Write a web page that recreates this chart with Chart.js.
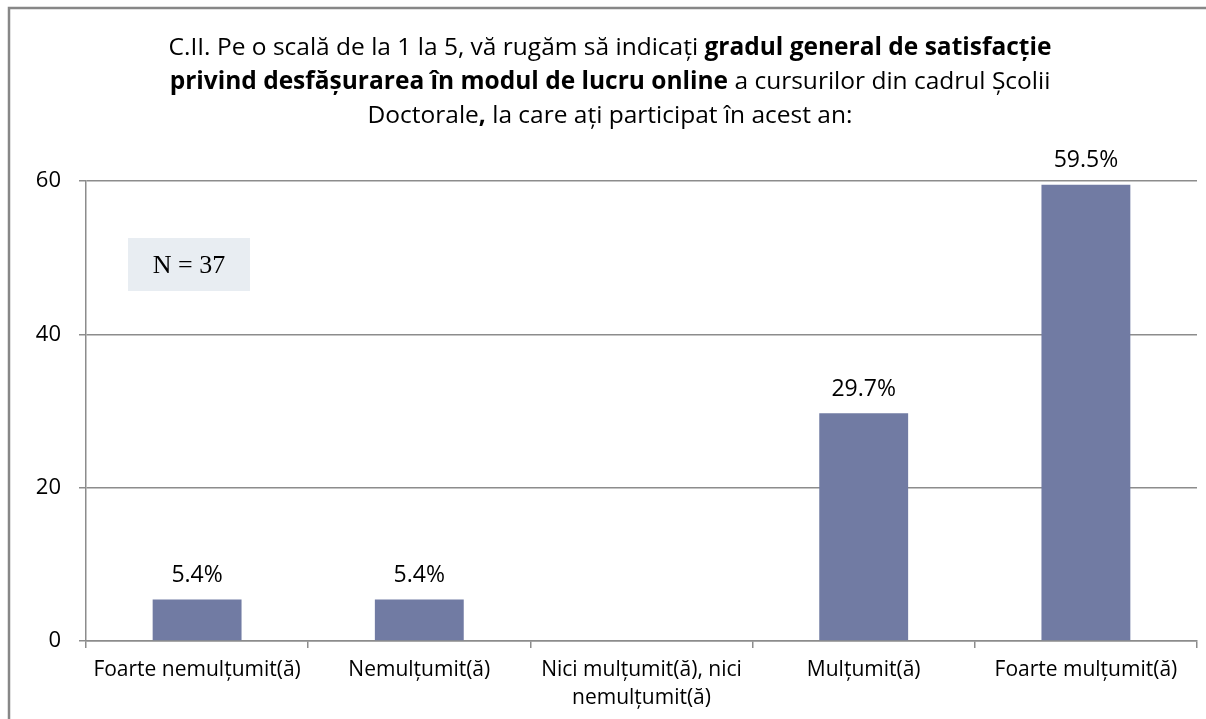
<!DOCTYPE html>
<html>
<head>
<meta charset="utf-8">
<script src="https://cdn.jsdelivr.net/npm/chart.js@4/dist/chart.umd.min.js"></script>
<style>
  html, body { margin: 0; padding: 0; background: #fff; }
  #wrap { width: 1206px; height: 719px; position: relative; }
</style>
</head>
<body>
<div id="wrap"><canvas id="c" width="1206" height="719"></canvas></div>
<script>
const categories = [
  "Foarte nemulțumit(ă)",
  "Nemulțumit(ă)",
  ["Nici mulțumit(ă), nici", "nemulțumit(ă)"],
  "Mulțumit(ă)",
  "Foarte mulțumit(ă)"
];
const percentValues = [5.4, 5.4, 0, 29.7, 59.5];
const yTicks = [0, 20, 40, 60];
const titleLines = [
  [["C.II. Pe o scală de la 1 la 5, vă rugăm să indicați ", false], ["gradul general de satisfacție", true]],
  [["privind desfășurarea în modul de lucru online", true], [" a cursurilor din cadrul Școlii", false]],
  [["Doctorale", false], [",", true], [" la care ați participat în acest an:", false]]
];
const sampleNote = "N = 37";

const SANS = "'Open Sans', Lato, sans-serif";
const GRID = "#8c8c8c";
const BAR = "#717ba3";

const decorPlugin = {
  id: "decor",
  beforeDraw(chart) {
    const ctx = chart.ctx;
    ctx.save();
    ctx.fillStyle = "#fff";
    ctx.fillRect(0, 0, chart.width, chart.height);
    // outer frame (left + top)
    ctx.strokeStyle = "#878787";
    ctx.lineWidth = 2.5;
    ctx.beginPath();
    ctx.moveTo(9, chart.height + 2);
    ctx.lineTo(9, 8);
    ctx.lineTo(chart.width + 2, 8);
    ctx.stroke();
    // title
    const size = 24.5;
    const cx = 610;
    const ys = [48, 82, 116];
    ctx.textBaseline = "middle";
    ctx.fillStyle = "#000";
    titleLines.forEach((segs, i) => {
      let total = 0;
      const widths = segs.map(([t, b]) => {
        ctx.font = (b ? "bold " : "") + size + "px " + SANS;
        const w = ctx.measureText(t).width;
        total += w;
        return w;
      });
      let x = cx - total / 2;
      ctx.textAlign = "left";
      segs.forEach(([t, b], j) => {
        ctx.font = (b ? "bold " : "") + size + "px " + SANS;
        ctx.fillText(t, x, ys[i]);
        x += widths[j];
      });
    });
    // N box
    ctx.fillStyle = "#e8edf2";
    ctx.fillRect(128, 238, 122, 53);
    ctx.fillStyle = "#000";
    ctx.font = "26px 'Liberation Serif', 'DejaVu Serif', serif";
    ctx.textAlign = "center";
    ctx.fillText(sampleNote, 189, 266);
    ctx.restore();
  },
  afterDatasetsDraw(chart) {
    const ctx = chart.ctx;
    const meta = chart.getDatasetMeta(0);
    ctx.save();
    ctx.fillStyle = "#000";
    ctx.font = "23px " + SANS;
    ctx.textAlign = "center";
    ctx.textBaseline = "middle";
    meta.data.forEach((el, i) => {
      const v = percentValues[i];
      if (v > 0) ctx.fillText(v.toFixed(1) + "%", el.x, el.y - 24);
    });
    ctx.restore();
  }
};

new Chart(document.getElementById("c"), {
  type: "bar",
  data: {
    labels: categories,
    datasets: [{
      data: percentValues,
      backgroundColor: BAR,
      borderWidth: 0,
      categoryPercentage: 1.0,
      barPercentage: 0.4
    }]
  },
  options: {
    responsive: false,
    animation: false,
    devicePixelRatio: 1,
    layout: { padding: { top: 181, left: 0, right: 9, bottom: 0 } },
    plugins: { legend: { display: false }, title: { display: false }, tooltip: { enabled: false } },
    scales: {
      x: {
        afterFit(s) { s.height = 78; },
        grid: { drawOnChartArea: false, color: GRID, lineWidth: 1.5, tickLength: 7, offset: true },
        border: { display: true, color: GRID, width: 1.5 },
        ticks: { color: "#000", font: { family: SANS, size: 21, lineHeight: 1.33 }, padding: 8, maxRotation: 0, autoSkip: false }
      },
      y: {
        min: 0, max: 60,
        afterFit(s) { s.width = 86; },
        afterBuildTicks(s) { s.ticks = yTicks.map(v => ({ value: v })); },
        grid: { color: GRID, lineWidth: 1.5, tickLength: 7 },
        border: { display: true, color: GRID, width: 1.5 },
        ticks: { color: "#000", font: { family: SANS, size: 22 }, padding: 18 }
      }
    }
  },
  plugins: [decorPlugin]
});
</script>
</body>
</html>
